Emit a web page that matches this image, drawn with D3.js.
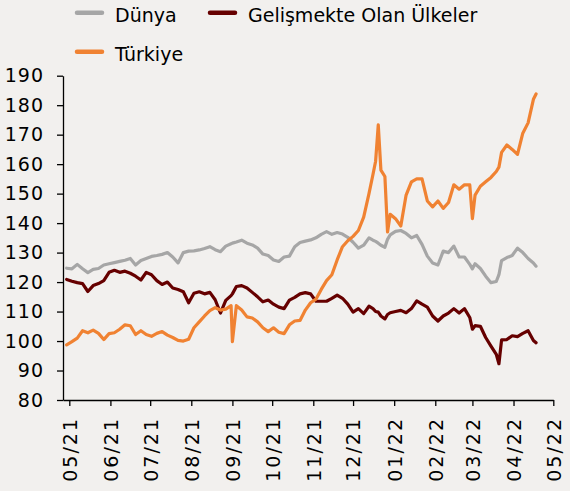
<!DOCTYPE html>
<html>
<head>
<meta charset="utf-8">
<script src="https://cdn.jsdelivr.net/npm/d3@7"></script>
<style>
  html, body { margin: 0; padding: 0; background: #f2f0ee; }
  svg { display: block; }
</style>
</head>
<body>
<svg id="chart" width="570" height="491"></svg>
<script>
const seriesNames = ["Dünya", "Gelişmekte Olan Ülkeler", "Türkiye"];
const seriesColors = ["#a6a6a6", "#660000", "#f08232"];

const dates = [
"2021-04-29","2021-05-03","2021-05-07","2021-05-11","2021-05-15","2021-05-19","2021-05-23","2021-05-27","2021-05-31",
"2021-06-04","2021-06-08","2021-06-12","2021-06-16","2021-06-20","2021-06-24","2021-06-28",
"2021-07-02","2021-07-06","2021-07-10","2021-07-14","2021-07-18","2021-07-22","2021-07-26","2021-07-30",
"2021-08-03","2021-08-07","2021-08-11","2021-08-15","2021-08-19","2021-08-23","2021-08-27","2021-08-31",
"2021-09-01","2021-09-04","2021-09-08","2021-09-12","2021-09-16","2021-09-20","2021-09-24","2021-09-28",
"2021-10-02","2021-10-06","2021-10-10","2021-10-14","2021-10-18","2021-10-22","2021-10-26","2021-10-30",
"2021-11-03","2021-11-07","2021-11-11","2021-11-15","2021-11-19","2021-11-23","2021-11-27",
"2021-12-01","2021-12-05","2021-12-09","2021-12-13","2021-12-16","2021-12-18","2021-12-20","2021-12-22","2021-12-25","2021-12-27","2021-12-29",
"2022-01-02","2022-01-06","2022-01-10","2022-01-14","2022-01-18","2022-01-22","2022-01-26","2022-01-30",
"2022-02-03","2022-02-07","2022-02-11","2022-02-15","2022-02-19","2022-02-23","2022-02-27",
"2022-03-01","2022-03-03","2022-03-07","2022-03-11","2022-03-15","2022-03-19","2022-03-21","2022-03-23","2022-03-27","2022-03-31",
"2022-04-04","2022-04-08","2022-04-12","2022-04-16","2022-04-18"
];

const world = [
124.7,124.5,126.0,124.5,123.2,124.3,124.6,125.8,126.2,
126.6,127.0,127.4,128.0,125.8,127.3,128.0,
128.7,129.0,129.4,130.0,128.5,126.5,130.0,130.5,
130.6,130.9,131.4,132.0,131.0,130.3,132.2,133.0,
133.2,133.6,134.2,133.2,132.6,131.5,129.5,129.0,
127.5,127.0,128.5,128.8,132.0,133.4,133.9,134.3,
135.0,136.2,137.1,136.2,136.8,136.3,135.2,
133.5,131.5,132.5,135.0,134.2,133.8,133.2,132.5,131.8,134.5,136.0,
137.2,137.5,136.5,135.0,135.8,132.8,128.8,126.5,
125.8,130.5,130.0,132.2,128.5,128.5,126.0,
124.5,126.2,124.6,122.0,119.8,120.2,122.5,127.3,128.3,129.0,
131.5,130.0,128.0,126.5,125.4
];

const emerging = [
120.9,120.3,119.8,119.5,116.8,118.8,119.5,120.5,123.3,
124.0,123.3,123.7,123.0,122.0,120.7,123.3,
122.5,120.5,119.2,120.0,118.0,117.5,116.7,113.0,
116.2,116.7,116.0,116.5,114.0,109.5,113.8,115.4,
116.0,118.5,118.8,118.0,116.5,115.0,113.3,113.9,
112.5,111.5,111.0,113.9,114.8,116.0,116.4,116.0,
113.5,113.5,113.5,114.5,115.6,114.5,112.5,
109.8,111.0,109.3,111.8,111.0,110.0,109.8,108.5,107.5,109.0,109.6,
110.0,110.4,109.6,111.0,113.6,112.5,111.5,108.5,
106.8,108.5,109.5,111.0,109.5,111.0,108.0,
104.0,105.2,105.0,101.2,98.3,95.5,92.3,100.4,100.5,101.8,
101.5,102.6,103.5,100.2,99.4
];

const turkey = [
98.7,99.8,101.0,103.5,102.8,103.7,102.6,100.5,102.5,
102.8,104.0,105.5,105.2,102.2,103.5,102.2,
101.6,102.6,103.2,102.0,101.2,100.2,100.0,100.6,
104.5,106.5,108.5,110.3,111.3,110.5,110.8,112.0,
99.8,112.0,110.5,108.2,107.8,106.5,104.5,103.2,
104.5,103.0,102.5,105.5,106.8,107.0,110.5,113.0,
114.2,117.5,120.5,122.5,127.5,132.0,134.0,
135.5,137.5,142.0,150.0,156.5,161.0,173.3,158.0,155.8,137.0,143.0,
141.5,139.0,149.5,154.0,155.0,155.0,147.5,145.5,
147.5,145.0,147.0,153.0,151.5,153.0,153.0,
141.5,149.5,152.5,154.0,155.5,157.5,159.0,164.0,166.5,165.0,
163.3,170.5,174.0,182.0,183.8
];

const yTicks = [80, 90, 100, 110, 120, 130, 140, 150, 160, 170, 180, 190];
const monthTicks = ["2021-05-01","2021-06-01","2021-07-01","2021-08-01","2021-09-01","2021-10-01",
  "2021-11-01","2021-12-01","2022-01-01","2022-02-01","2022-03-01","2022-04-01","2022-05-01"];

const parse = d3.timeParse("%Y-%m-%d");
const dateObjs = dates.map(parse);
const seriesValues = [world, emerging, turkey];

const svg = d3.select("#chart");
const FONT = "'DejaVu Sans', Verdana, sans-serif";

const x = d3.scaleTime()
  .domain([new Date(2021, 3, 26, 6), parse("2022-05-01")])
  .range([63, 553.3]);
const y = d3.scaleLinear().domain([80, 190]).range([400, 75.7]);

// axes
const xAxis = d3.axisBottom(x)
  .tickValues(monthTicks.map(parse))
  .tickFormat(d3.timeFormat("%m/%y"))
  .tickSize(6).tickSizeOuter(0);
const gx = svg.append("g").attr("transform", "translate(0,400)").call(xAxis);
gx.selectAll("text")
  .attr("transform", "rotate(-90)")
  .attr("text-anchor", "end")
  .attr("x", -17).attr("y", 0).attr("dy", "0.36em")
  .style("letter-spacing", "2px");

const yAxis = d3.axisLeft(y).tickValues(yTicks).tickSize(6).tickSizeOuter(0).tickPadding(13);
const gy = svg.append("g").attr("transform", "translate(63,0)").call(yAxis);
gy.selectAll("text").style("letter-spacing", "1px");

[gx, gy].forEach(g => {
  g.selectAll("path.domain").attr("stroke", "#000").attr("stroke-width", 1.3);
  g.selectAll(".tick line").attr("stroke", "#000").attr("stroke-width", 1.3);
  g.selectAll("text").attr("fill", "#000").style("font-family", FONT).style("font-size", "19px");
});

// lines
const line = d3.line()
  .x((d, i) => x(dateObjs[i]))
  .y(d => y(d));

seriesValues.forEach((vals, k) => {
  svg.append("path")
    .datum(vals)
    .attr("d", line)
    .attr("fill", "none")
    .attr("stroke", seriesColors[k])
    .attr("stroke-width", 3.2)
    .attr("stroke-linejoin", "round")
    .attr("stroke-linecap", "round");
});

// legend
const legendItems = [
  { k: 0, x: 75, y: 12.7 },
  { k: 1, x: 208, y: 12.7 },
  { k: 2, x: 75, y: 51.7 }
];
const lg = svg.append("g");
legendItems.forEach(it => {
  lg.append("line")
    .attr("x1", it.x + 2).attr("x2", it.x + 27)
    .attr("y1", it.y).attr("y2", it.y)
    .attr("stroke", seriesColors[it.k])
    .attr("stroke-width", 4.5)
    .attr("stroke-linecap", "round");
  lg.append("text")
    .attr("x", it.x + 40).attr("y", it.y + 9)
    .attr("fill", "#000")
    .style("font-family", FONT)
    .style("font-size", "19px")
    .text(seriesNames[it.k]);
});
</script>
</body>
</html>
